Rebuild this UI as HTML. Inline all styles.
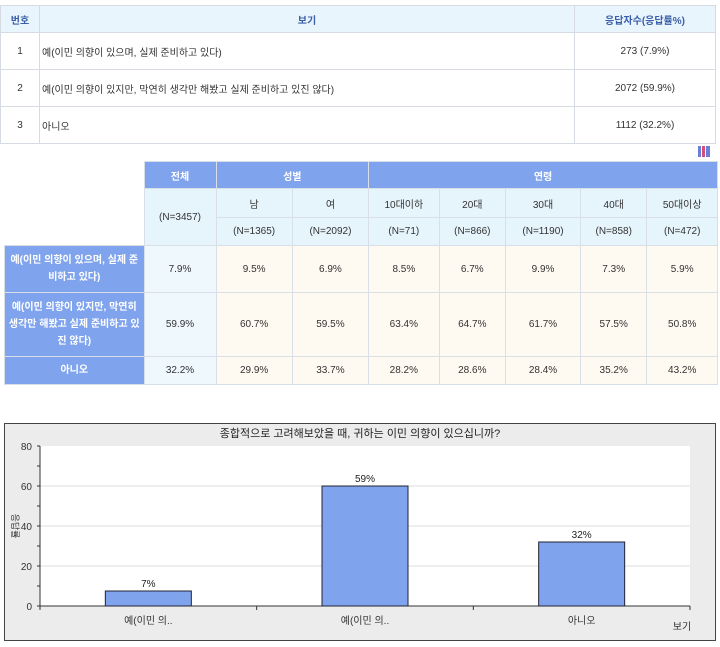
<!DOCTYPE html>
<html><head><meta charset="utf-8">
<style>
body{margin:0;width:720px;height:647px;background:#fff;font-family:"Liberation Sans","Noto Sans CJK KR",sans-serif;font-size:10px;color:#333;position:relative;overflow:hidden}
table{border-collapse:collapse;position:absolute}
td{padding:0;text-align:center;border:1px solid #d8dfe8}
#t1{left:0;top:5px;width:716px}
#t1 td{border-color:#d6dbe3}
#t1 .h{background:#e9f5fc;color:#3a5fa8;font-weight:bold;height:26px}
#t1 .r td{height:36px}
#t2{left:4px;top:161px;width:714px}
.bh{background:#7fa3ec;color:#fff;font-weight:bold}
.sh{background:#e6f4fc;color:#333}
.lc{background:#7fa3ec;color:#fff;font-weight:bold;line-height:17px;padding:0 3px}
.c0{background:#eef8fd}
.cv{background:#fffaf1}
</style></head><body>
<table id="t1">
<tr><td class="h" style="width:38px">번호</td><td class="h">보기</td><td class="h" style="width:140px">응답자수(응답률%)</td></tr>
<tr class="r"><td>1</td><td style="text-align:left;padding-left:2px">예(이민 의향이 있으며, 실제 준비하고 있다)</td><td>273 (7.9%)</td></tr>
<tr class="r"><td>2</td><td style="text-align:left;padding-left:2px">예(이민 의향이 있지만, 막연히 생각만 해봤고 실제 준비하고 있진 않다)</td><td>2072 (59.9%)</td></tr>
<tr class="r"><td>3</td><td style="text-align:left;padding-left:2px">아니오</td><td>1112 (32.2%)</td></tr>
</table>
<div style="position:absolute;left:698px;top:146px;width:12px;height:11px;background:linear-gradient(90deg,#6a7fd8 0 3px,transparent 3px 4px,#d05080 4px 7px,transparent 7px 8px,#6a7fd8 8px 11px)"></div>
<table id="t2">
<tr style="height:27px"><td rowspan="3" style="border:none;background:#fff;width:139px"></td><td class="bh" style="width:71px">전체</td><td class="bh" colspan="2">성별</td><td class="bh" colspan="5">연령</td></tr>
<tr style="height:29px"><td class="sh" rowspan="2">(N=3457)</td><td class="sh">남</td><td class="sh">여</td><td class="sh">10대이하</td><td class="sh">20대</td><td class="sh">30대</td><td class="sh">40대</td><td class="sh">50대이상</td></tr>
<tr style="height:28px"><td class="sh">(N=1365)</td><td class="sh">(N=2092)</td><td class="sh">(N=71)</td><td class="sh">(N=866)</td><td class="sh">(N=1190)</td><td class="sh">(N=858)</td><td class="sh">(N=472)</td></tr>
<tr style="height:47px"><td class="lc">예(이민 의향이 있으며, 실제 준비하고 있다)</td><td class="c0">7.9%</td><td class="cv">9.5%</td><td class="cv">6.9%</td><td class="cv">8.5%</td><td class="cv">6.7%</td><td class="cv">9.9%</td><td class="cv">7.3%</td><td class="cv">5.9%</td></tr>
<tr style="height:64px"><td class="lc">예(이민 의향이 있지만, 막연히 생각만 해봤고 실제 준비하고 있진 않다)</td><td class="c0">59.9%</td><td class="cv">60.7%</td><td class="cv">59.5%</td><td class="cv">63.4%</td><td class="cv">64.7%</td><td class="cv">61.7%</td><td class="cv">57.5%</td><td class="cv">50.8%</td></tr>
<tr style="height:28px"><td class="lc">아니오</td><td class="c0">32.2%</td><td class="cv">29.9%</td><td class="cv">33.7%</td><td class="cv">28.2%</td><td class="cv">28.6%</td><td class="cv">28.4%</td><td class="cv">35.2%</td><td class="cv">43.2%</td></tr>
</table>
<svg id="chart" width="720" height="647" style="position:absolute;left:0;top:0" font-family="Liberation Sans, Noto Sans CJK KR, sans-serif" font-size="10"></svg>
<script>
const categories=["예(이민 의..","예(이민 의..","아니오"];
const values=[7.5,60,32];
const valueLabels=["7%","59%","32%"];
const yTicks=[0,20,40,60,80];
const svg=document.getElementById('chart');
const NS='http://www.w3.org/2000/svg';
function mk(t,a,txt){const e=document.createElementNS(NS,t);for(const k in a)e.setAttribute(k,a[k]);if(txt!==undefined)e.textContent=txt;svg.appendChild(e);return e;}
const x0=40,x1=690,y0=606,y1=446,ymax=80;
const ys=v=>y0-(y0-y1)*v/ymax;
const bw=(x1-x0)/categories.length;
const xc=i=>x0+bw*(i+0.5);
let e;
e=mk('rect',{x:4.5,y:423.5,width:711,height:217,fill:'#ececec',stroke:'#444'});


e=mk('rect',{x:x0,y:y1,width:x1-x0,height:y0-y1,fill:'#fff'});


e=mk('text',{x:360,y:437,'text-anchor':'middle','font-size':11,fill:'#222'},'종합적으로 고려해보았을 때, 귀하는 이민 의향이 있으십니까?');


yTicks.forEach(v=>{
  if(v>0&&v<ymax){const g=mk('line',{x1:x0,x2:x1,y1:ys(v),y2:ys(v),stroke:'#ddd'});}
  const t=mk('text',{x:x0-8,y:ys(v)+4,'text-anchor':'end',fill:'#333'},v);
  
  
  mk('line',{x1:x0-3,x2:x0,y1:ys(v),y2:ys(v),stroke:'#333'});
  if(v<ymax) mk('line',{x1:x0-3,x2:x0,y1:ys(v+10),y2:ys(v+10),stroke:'#333'});
});
mk('line',{x1:x0,x2:x0,y1:y1,y2:y0,stroke:'#333'});
mk('line',{x1:x0,x2:x1,y1:y0,y2:y0,stroke:'#333'});
for(let i=0;i<=categories.length;i++) mk('line',{x1:x0+bw*i,x2:x0+bw*i,y1:y0,y2:y0+4,stroke:'#333'});
categories.forEach((c,i)=>{
  const b=mk('rect',{x:xc(i)-43,y:ys(values[i]),width:86,height:y0-ys(values[i]),fill:'#7fa3ec',stroke:'#223'});
  
  
  const l=mk('text',{x:xc(i),y:ys(values[i])-4,'text-anchor':'middle',fill:'#222'},valueLabels[i]);
  
  
  const x=mk('text',{x:xc(i),y:624,'text-anchor':'middle',fill:'#333'},c);
  
  
});
e=mk('text',{x:682,y:630,'text-anchor':'middle',fill:'#333'},'보기');


e=mk('text',{x:12,y:526,'text-anchor':'middle',fill:'#333','font-size':9,transform:'rotate(90 12 526)'},'응답률');


</script>
</body></html>
